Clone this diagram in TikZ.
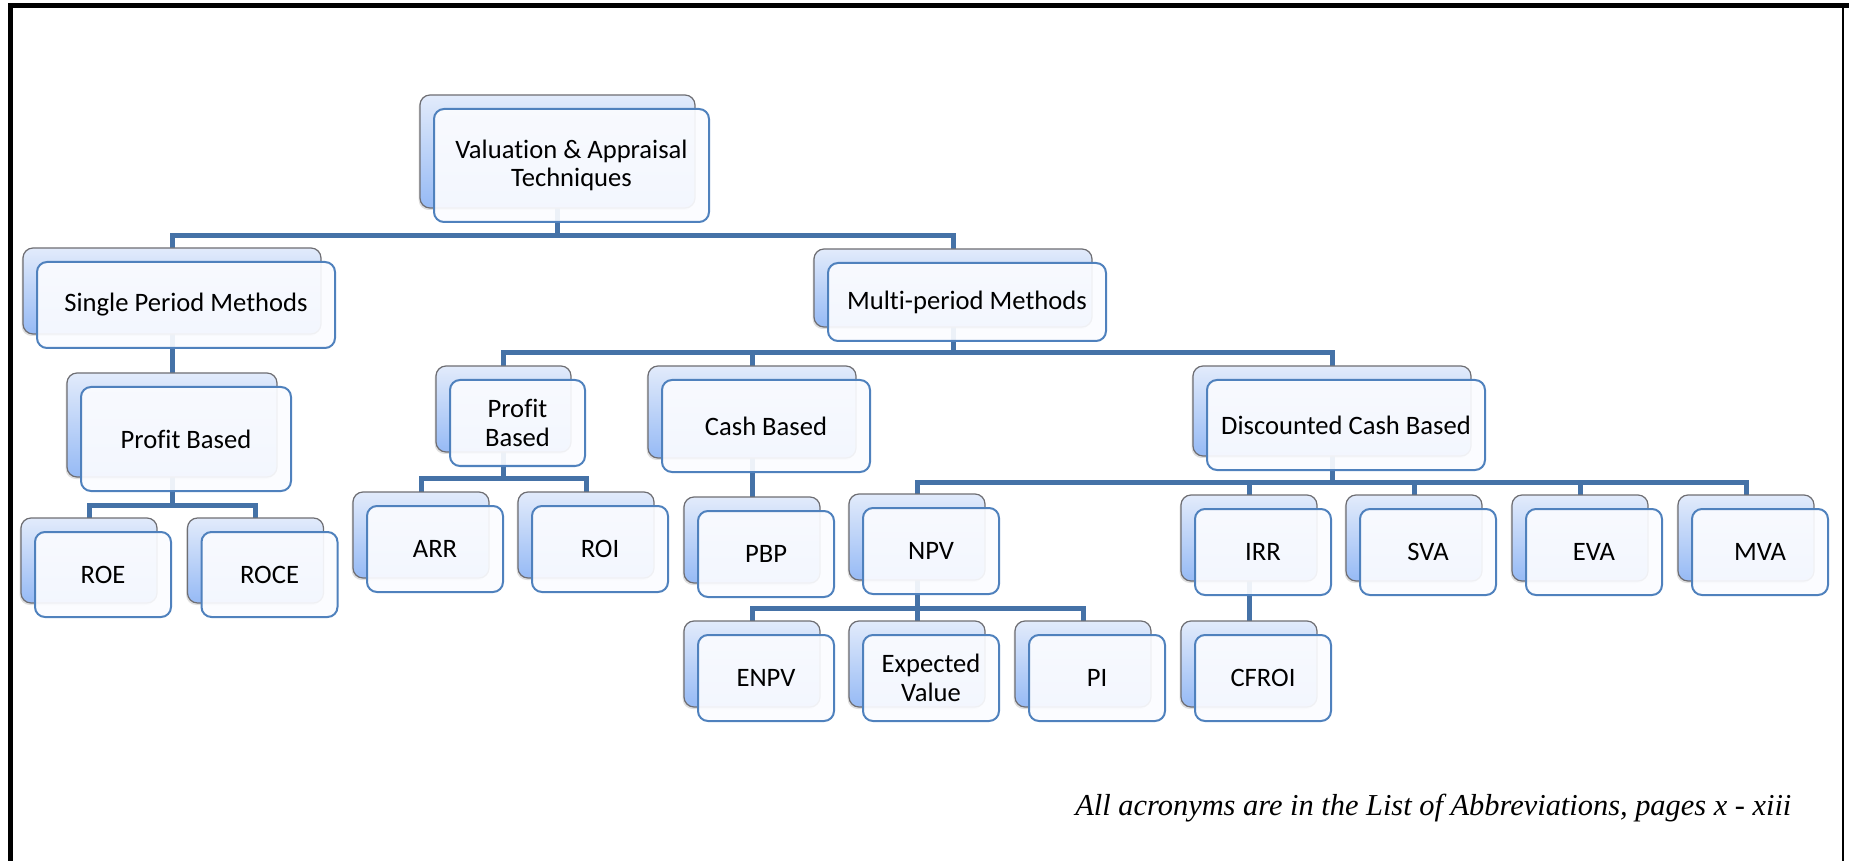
\documentclass[tikz,border=0pt]{standalone}
\usepackage{fontspec}
\setmainfont{Carlito}[Ligatures=NoCommon]
\newfontfamily\notefont{Liberation Serif}
\usetikzlibrary{calc,shadows,backgrounds}

\definecolor{connblue}{RGB}{69,114,167}
\definecolor{frontedge}{RGB}{79,129,189}
\definecolor{frontfill}{RGB}{251,252,255}
\definecolor{backtop}{RGB}{226,235,251}
\definecolor{backbot}{RGB}{150,186,245}
\definecolor{backedge}{RGB}{110,110,115}

\newcommand\diagfont{\fontsize{13.3}{14.4}\selectfont}

\tikzset{
  backbox/.style={draw=backedge, line width=0.6pt, rounded corners=5pt,
    top color=backtop, bottom color=backbot, inner sep=0pt, outer sep=0pt,
    drop shadow={shadow xshift=-0.7pt, shadow yshift=-1pt, opacity=0.25}},
  frontbox/.style={draw=frontedge, line width=1pt, rounded corners=5pt,
    fill=frontfill, fill opacity=0.92, text opacity=1, inner sep=0pt,
    outer sep=0pt, align=center, font=\diagfont},
  conn/.style={draw=connblue, line width=2.5pt, line join=miter},
  frameline/.style={draw=black, line join=miter},
}

% stacked SmartArt-style box: name, centre x, centre y, width, height, label
\newcommand\stackbox[6]{%
  \node[backbox, minimum width=#4*0.5pt, minimum height=#5*0.5pt] (#1b) at (#2,#3) {};
  \node[frontbox, minimum width=#4*0.5pt, minimum height=#5*0.5pt] (#1) at ($(#1b)+(14,14)$) {#6};
}

\begin{document}
\begin{tikzpicture}[x=0.5pt,y=-0.5pt]
\useasboundingbox (0,0) rectangle (1849,861);

% page frame
\draw[frameline, line width=2.5pt] (10,861) -- (10,6) -- (1849,6);
\draw[frameline, line width=1pt] (1843,6) -- (1843,861);

% boxes
\stackbox{top}{557.5}{151.5}{275}{113}{Valuation \& Appraisal\\Techniques}
\stackbox{single}{172}{291}{298}{86}{Single Period Methods}
\stackbox{multi}{953}{288}{278}{78}{Multi-period Methods}
\stackbox{profL}{172}{425}{210}{104}{Profit Based}
\stackbox{roe}{89}{560.5}{136}{85}{ROE}
\stackbox{roce}{255.5}{560.5}{136}{85}{ROCE}
\stackbox{profM}{503.5}{409}{135}{86}{Profit\\Based}
\stackbox{cash}{752}{412}{208}{92}{Cash Based}
\stackbox{disc}{1332}{411}{278}{90}{Discounted Cash Based}
\stackbox{arr}{421}{535}{136}{86}{ARR}
\stackbox{roi}{586}{535}{136}{86}{ROI}
\stackbox{pbp}{752}{540}{136}{86}{PBP}
\stackbox{npv}{917}{537}{136}{86}{NPV}
\stackbox{irr}{1249}{538}{136}{86}{IRR}
\stackbox{sva}{1414}{538}{136}{86}{SVA}
\stackbox{eva}{1580}{538}{136}{86}{EVA}
\stackbox{mva}{1746}{538}{136}{86}{MVA}
\stackbox{enpv}{752}{664}{136}{86}{ENPV}
\stackbox{ev}{917}{664}{136}{86}{Expected\\Value}
\stackbox{pi}{1083}{664}{136}{86}{PI}
\stackbox{cfroi}{1249}{664}{136}{86}{CFROI}

% connectors, behind the boxes
\begin{scope}[on background layer]
  \draw[conn] (topb.south) -- ++(0,28) -| (singleb.north);
  \draw[conn] (topb.south) -- ++(0,28) -| (multib.north);
  \draw[conn] (singleb.south) -- (profLb.north);
  \draw[conn] (profLb.south) -- ++(0,28) -| (roeb.north);
  \draw[conn] (profLb.south) -- ++(0,28) -| (roceb.north);
  \draw[conn] (multib.south) -- ++(0,26) -| (profMb.north);
  \draw[conn] (multib.south) -- ++(0,26) -| (cashb.north);
  \draw[conn] (multib.south) -- ++(0,26) -| (discb.north);
  \draw[conn] (profMb.south) -- ++(0,26) -| (arrb.north);
  \draw[conn] (profMb.south) -- ++(0,26) -| (roib.north);
  \draw[conn] (cashb.south) -- (pbpb.north);
  \draw[conn] (discb.south) -- ++(0,26) -| (npvb.north);
  \draw[conn] (discb.south) -- ++(0,26) -| (irrb.north);
  \draw[conn] (discb.south) -- ++(0,26) -| (svab.north);
  \draw[conn] (discb.south) -- ++(0,26) -| (evab.north);
  \draw[conn] (discb.south) -- ++(0,26) -| (mvab.north);
  \draw[conn] (npvb.south) -- ++(0,28) -| (enpvb.north);
  \draw[conn] (npvb.south) -- ++(0,28) -| (evb.north);
  \draw[conn] (npvb.south) -- ++(0,28) -| (pib.north);
  \draw[conn] (irrb.south) -- (cfroib.north);
\end{scope}

% footnote
\node[font={\notefont\itshape\fontsize{15.2}{17}\selectfont}, anchor=base west, inner sep=0pt]
  (note) at (1075,815) {All acronyms are in the List of Abbreviations, pages x - xiii};
\end{tikzpicture}
\end{document}
